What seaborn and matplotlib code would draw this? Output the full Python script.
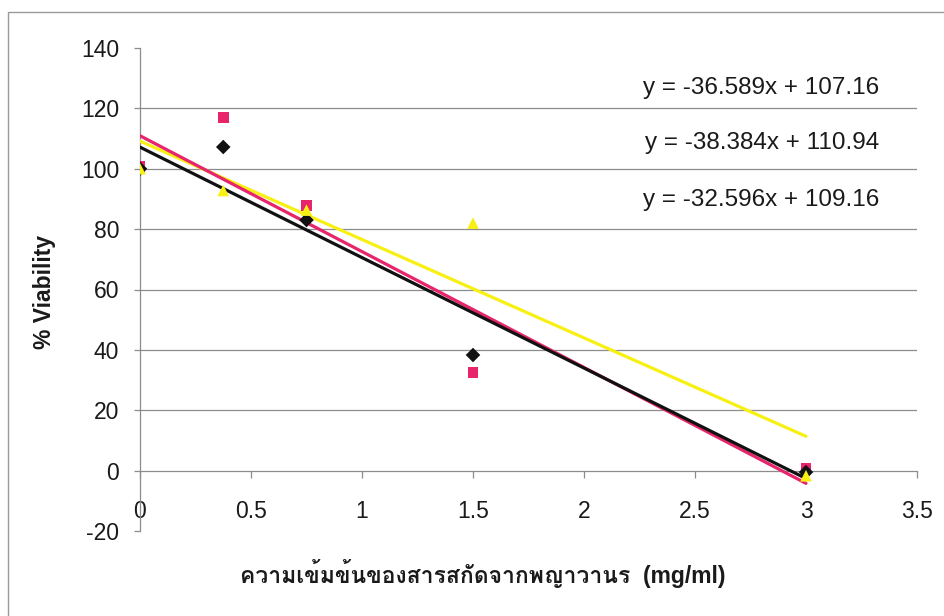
import numpy as np
import pandas as pd
import matplotlib
matplotlib.use("Agg")
import matplotlib.pyplot as plt
import seaborn as sns
from matplotlib import font_manager
from matplotlib.ft2font import FT2Font
from matplotlib.patches import Rectangle

# Concentration of extract (mg/ml)
conc = [0, 0.375, 0.75, 1.5, 3]

# % viability for the three replicate series
viab_black = [100, 107.2, 83, 38.3, -0.5]
viab_pink = [100.8, 117, 87.8, 32.5, 0.7]
viab_yellow = [100, 92.8, 86.3, 82, -1.7]

# Linear trendlines (slope, intercept)
fit_black = (-36.589, 107.16)
fit_pink = (-38.384, 110.94)
fit_yellow = (-32.596, 109.16)

yticks = [-20, 0, 20, 40, 60, 80, 100, 120, 140]
xticks = [0, 0.5, 1, 1.5, 2, 2.5, 3, 3.5]
xlabel = "ความเข้มข้นของสารสกัดจากพญาวานร  (mg/ml)"
ylabel = "% Viability"

sns.set_theme(style="white")
plt.rcParams["font.family"] = ["Liberation Sans", "DejaVu Sans"]


def family_with(chars):
    seen = set()
    for f in font_manager.fontManager.ttflist:
        if f.fname in seen:
            continue
        seen.add(f.fname)
        try:
            cmap = FT2Font(f.fname).get_charmap()
        except Exception:
            continue
        if all(ord(c) in cmap for c in chars):
            return f.name
    return None


thai = family_with("ความเข้มข")
label_families = ["Liberation Sans"] + ([thai] if thai else []) + ["DejaVu Sans"]

colors = {"black": "#111111", "pink": "#E8246A", "yellow": "#F7F012"}
markers = {"black": "D", "pink": "s", "yellow": "^"}
sizes = {"black": 55, "pink": 58, "yellow": 70}

pts = pd.DataFrame({
    "conc": conc * 3,
    "viab": viab_black + viab_pink + viab_yellow,
    "series": ["black"] * 5 + ["pink"] * 5 + ["yellow"] * 5,
})

fits = {"black": fit_black, "pink": fit_pink, "yellow": fit_yellow}
line_rows = []
for name, (m, b) in fits.items():
    for xv in (conc[0], conc[-1]):
        line_rows.append({"conc": xv, "viab": m * xv + b, "series": name})
lines = pd.DataFrame(line_rows)

fig = plt.figure(figsize=(9.45, 6.16), dpi=100)
fig.patch.set_facecolor("white")
ax = fig.add_axes([140 / 945, 1 - 531 / 616, 777 / 945, 483 / 616])
ax.set_facecolor("white")

# outer chart border
fig.patches.append(Rectangle((8 / 945, -0.05), 1.2, 1 - 12 / 616 + 0.05,
                             transform=fig.transFigure, fill=False,
                             edgecolor="#9a9a9a", linewidth=1.0, zorder=0))

# horizontal gridlines between the end ticks
ax.hlines([20, 40, 60, 80, 100, 120], 0, 3.5, colors="#8c8c8c", linewidth=0.9, zorder=1)

for name in ["yellow", "pink", "black"]:
    sns.lineplot(data=lines[lines.series == name], x="conc", y="viab", ax=ax,
                 color=colors[name], linewidth=2.3, zorder=3, legend=False)

for name in ["pink", "black", "yellow"]:
    sns.scatterplot(data=pts[pts.series == name], x="conc", y="viab", ax=ax,
                    color=colors[name], marker=markers[name], s=sizes[name],
                    edgecolor="none", zorder=4, legend=False)

ax.set_xlim(0, 3.5)
ax.set_ylim(-20, 140)
ax.set_xticks(xticks)
ax.set_xticklabels([f"{t:g}" for t in xticks])
ax.set_yticks(yticks)
ax.set_yticklabels([str(t) for t in yticks])

for side in ["top", "right"]:
    ax.spines[side].set_visible(False)
ax.spines["bottom"].set_position(("data", 0))
for side in ["left", "bottom"]:
    ax.spines[side].set_color("#8c8c8c")
    ax.spines[side].set_linewidth(0.9)

ax.tick_params(axis="y", direction="out", length=4, width=0.9, color="#8c8c8c",
               pad=11, labelsize=16.5, labelcolor="#1a1a1a", left=True)
ax.tick_params(axis="x", direction="out", length=5, width=0.9, color="#8c8c8c",
               pad=16, labelsize=16.5, labelcolor="#1a1a1a", bottom=True)

ax.set_xlabel("")
ax.set_ylabel("")
fig.text(45 / 945, 1 - 292 / 616, ylabel, rotation=90, ha="center", va="center",
         fontsize=16.5, fontweight="bold", color="#1a1a1a")
fig.text(483 / 945, 1 - 574 / 616, xlabel, ha="center", va="center",
         fontsize=16.5, fontweight="bold", color="#1a1a1a", family=label_families)

# trendline equations
eq_y = [88, 143, 200]
for (m, b), yy in zip([fit_black, fit_pink, fit_yellow], eq_y):
    fig.text(879 / 945, 1 - yy / 616, f"y = {m:g}x + {b:.2f}", ha="right", va="center",
             fontsize=17.5, color="#1a1a1a")

fig.savefig("out.png", dpi=100, facecolor="white")
